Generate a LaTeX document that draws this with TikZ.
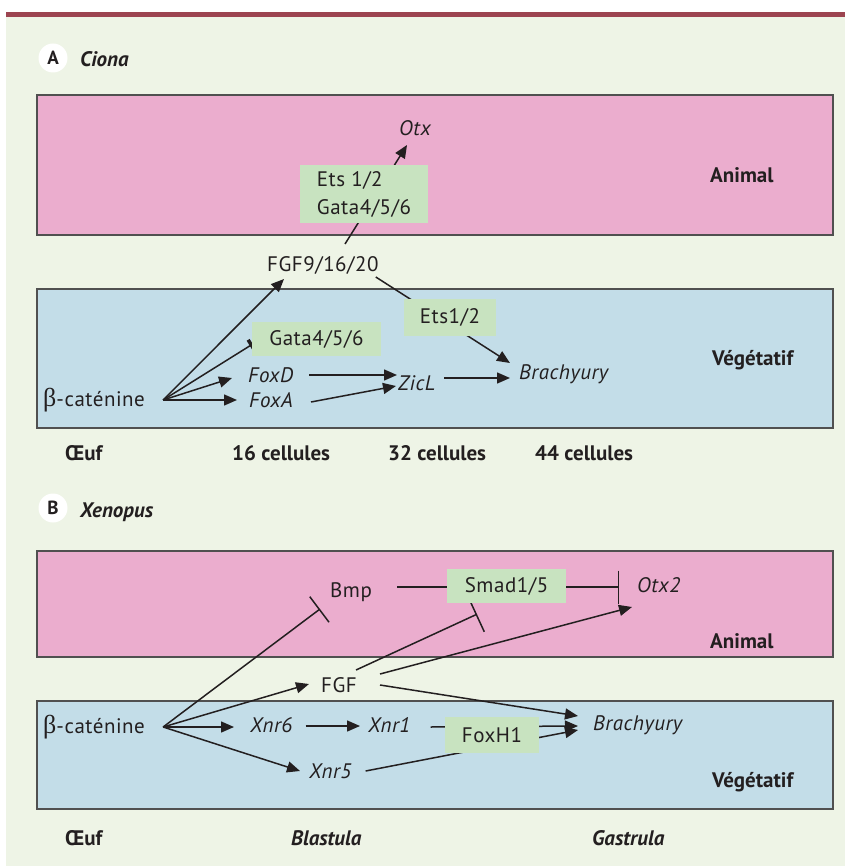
\documentclass[tikz,border=0pt]{standalone}
\usepackage{fontspec}
\setmainfont{PT Sans}
\newfontfamily\gfont{PT Sans}[LetterSpace=2.5]
\newfontfamily\grk{Liberation Serif}
\usetikzlibrary{arrows.meta}
\definecolor{bgc}{RGB}{238,244,230}
\definecolor{barc}{RGB}{156,68,80}
\definecolor{pinkc}{RGB}{235,173,206}
\definecolor{bluec}{RGB}{195,221,232}
\definecolor{greenc}{RGB}{200,227,192}
\definecolor{linec}{RGB}{35,31,32}
\definecolor{edgec}{RGB}{80,80,80}
\pgfdeclarelayer{bgl}
\pgfdeclarelayer{edl}
\pgfsetlayers{bgl,edl,main}
\begin{document}
\begin{tikzpicture}[x=1pt,y=-1pt,
  every node/.style={font=\fontsize{21}{25}\selectfont\gfont, text=linec},
  txt/.style={inner sep=0pt, anchor=base west},
  gen/.style={txt, font=\fontsize{21}{25}\selectfont\gfont\itshape},
  lbl/.style={txt, font=\fontsize{21}{25}\selectfont\rmfamily\bfseries},
  lbli/.style={txt, font=\fontsize{21}{25}\selectfont\rmfamily\bfseries\itshape},
  gbox/.style={fill=greenc, inner sep=0pt},
  zone/.style={draw=edgec, line width=1.2pt},
  circ/.style={circle, fill=white, minimum size=29pt, inner sep=0pt, font=\fontsize{19}{22}\selectfont\rmfamily\bfseries},
  arr/.style={draw=linec, line width=1.5pt, -{Triangle[length=13pt,width=11pt]}},
  inh/.style={draw=linec, line width=1.5pt, -{Bar[width=#1]}},
  inhA/.style={draw=linec, line width=1.5pt, -{Bar[width=12pt,line width=3.5pt]}},
]
\useasboundingbox (0,0) rectangle (845,866);
\begin{pgfonlayer}{bgl}
\fill[white] (0,0) rectangle (845,866);
\fill[bgc] (6,17) rectangle (845,866);
\fill[barc] (6,12) rectangle (845,17);
\draw[zone, fill=pinkc] (37,95) rectangle (833,235);
\draw[zone, fill=bluec] (37,289) rectangle (833,428);
\draw[zone, fill=pinkc] (37,551) rectangle (833,657);
\draw[zone, fill=bluec] (37,701) rectangle (833,809);
\end{pgfonlayer}

% ---------- A ----------
\node[circ] (cA) at (53,58) {A};
\node[lbli] (tA) at (80,67) {Ciona};
\node[lbl] (anA) at (710,183) {Animal};
\node[lbl] (veA) at (712,365) {Végétatif};
\node[gen] (otx) at (399,136) {Otx};
\node[gbox, minimum width=128pt, minimum height=58pt, align=left, font=\fontsize{21}{28}\selectfont\gfont] (egA) at (364,194) {Ets 1/2\\Gata4/5/6};
\node[txt] (fgfA) at (267,272) {FGF9/16/20};
\node[gbox, minimum width=129pt, minimum height=34pt] (gataA) at (316.5,339) {Gata4/5/6};
\node[gbox, minimum width=92pt, minimum height=37pt] (etsA) at (450,317.5) {Ets1/2};
\node[gen] (foxD) at (248,382) {FoxD};
\node[gen] (foxA) at (249,407) {FoxA};
\node[gen] (zicL) at (398,390) {ZicL};
\node[gen] (brA) at (519,379) {Brachyury};
\node[txt] (betaA) at (43,406) {{\fontsize{26}{26}\selectfont\grk β}-caténine};
\node[lbl] (s0A) at (65,460) {Œuf};
\node[lbl] (s1A) at (232,460) {16 cellules};
\node[lbl] (s2A) at (388,460) {32 cellules};
\node[lbl] (s3A) at (535,460) {44 cellules};

% ---------- B ----------
\node[circ] (cB) at (53,508) {B};
\node[lbli] (tB) at (80,517) {Xenopus};
\node[lbl] (anB) at (710,648) {Animal};
\node[lbl] (veB) at (712,787) {Végétatif};
\node[txt] (bmp) at (330,597) {Bmp};
\node[gbox, minimum width=119pt, minimum height=34pt] (smad) at (506.5,586) {Smad1/5};
\node[gen] (otx2) at (637,592) {Otx2};
\node[txt] (fgfB) at (321,692) {FGF};
\node[txt] (betaB) at (43,733) {{\fontsize{26}{26}\selectfont\grk β}-caténine};
\node[gen] (xnr6) at (250,732) {Xnr6};
\node[gen] (xnr1) at (368,732) {Xnr1};
\node[gbox, minimum width=94pt, minimum height=36pt] (foxH) at (492,735) {FoxH1};
\node[gen] (brB) at (593,730) {Brachyury};
\node[gen] (xnr5) at (309,778) {Xnr5};
\node[lbl] (s0B) at (65,845) {Œuf};
\node[lbli] (s1B) at (291,845) {Blastula};
\node[lbli] (s2B) at (592,845) {Gastrula};

\begin{pgfonlayer}{edl}
% A edges
\coordinate (oA) at ([shift={(18,-6)}]betaA.base east);
\draw[arr] (oA) -- ([shift={(17,7)}]fgfA.base west);
\draw[inhA] (oA) -- ([shift={(1,5)}]gataA.west);
\draw[arr] (oA) -- ([shift={(-16,-4)}]foxD.base west);
\draw[arr] (oA) -- ([shift={(-12,-7)}]foxA.base west);
\draw[arr] ([shift={(16,-7)}]foxD.base east) -- ([shift={(-1,-15)}]zicL.base west);
\draw[arr] ([shift={(18,-5)}]foxA.base east) -- ([shift={(-2,-4)}]zicL.base west);
\draw[arr] ([shift={(9,-12)}]zicL.base east) -- ([shift={(-9,-1)}]brA.base west);
\draw[arr] ([shift={(-3,5)}]fgfA.base east) -- ([shift={(-9,-16)}]brA.base west);
\draw[arr] ([shift={(78,-28)}]fgfA.base west) -- ([shift={(8,9)}]otx.base west);
% B edges
\coordinate (oB) at ([shift={(18,-6)}]betaB.base east);
\draw[inh=32pt] (oB) -- ([shift={(-10,12)}]bmp.base west);
\draw[arr] (oB) -- ([shift={(-12,-8)}]fgfB.base west);
\draw[arr] (oB) -- ([shift={(-16,-5)}]xnr6.base west);
\draw[arr] (oB) -- ([shift={(-9,-7)}]xnr5.base west);
\draw[arr] ([shift={(13,-6)}]xnr6.base east) -- ([shift={(-8,-6)}]xnr1.base west);
\draw[arr] ([shift={(20,-5)}]xnr1.base east) -- ([shift={(-15,-4)}]brB.base west);
\draw[arr] ([shift={(14,-7)}]xnr5.base east) -- ([shift={(-15,0)}]brB.base west);
\draw[arr] ([shift={(23,-7)}]fgfB.base east) -- ([shift={(-15,-14)}]brB.base west);
\draw[arr] ([shift={(23,-18)}]fgfB.base east) -- ([shift={(-5,15)}]otx2.base west);
\draw[inh=38pt] ([shift={(-1,-22)}]fgfB.base east) -- ([shift={(-29.5,11)}]smad.south);
\draw[inh=33pt] ([shift={(25,-10)}]bmp.base east) -- ([shift={(-18,-5)}]otx2.base west);
\end{pgfonlayer}
\end{tikzpicture}
\end{document}
